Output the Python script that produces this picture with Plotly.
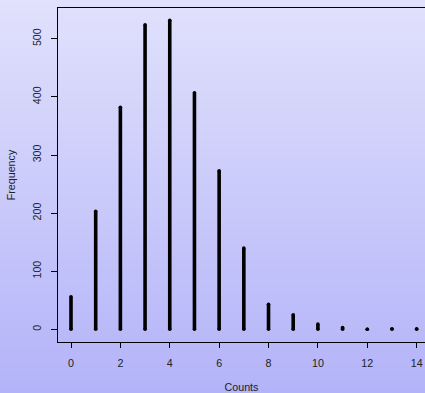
import plotly.graph_objects as go

counts = list(range(15))
frequency = [56, 203, 382, 524, 532, 407, 273, 140, 43, 25, 9, 3, 0, 1, 1]
x_ticks = [0, 2, 4, 6, 8, 10, 12, 14]
y_ticks = [0, 100, 200, 300, 400, 500]

W, H = 425, 393
ML, MT, MB, MR = 58, 8, 51, 0

# segment coordinates for type="h"-style lines
xs, ys = [], []
for c, f in zip(counts, frequency):
    xs += [c, c, None]
    ys += [0, f, None]

fig = go.Figure()
fig.add_trace(go.Scatter(x=xs, y=ys, mode="lines",
                         line=dict(color="black", width=3.6),
                         hoverinfo="skip", showlegend=False))
# round caps at both ends
fig.add_trace(go.Scatter(x=counts + counts, y=[0] * len(counts) + frequency,
                         mode="markers",
                         marker=dict(color="black", size=3.6, line=dict(width=0)),
                         hoverinfo="skip", showlegend=False))

# vertical gradient background (paper-referenced strips)
top = (225, 225, 252)
bot = (179, 179, 249)
ph = H - MT - MB
shapes = []
for py in range(H):
    t = py / (H - 1)
    col = tuple(round(top[i] + (bot[i] - top[i]) * t) for i in range(3))
    y0 = (H - MB - (py + 1)) / ph
    y1 = (H - MB - py) / ph
    shapes.append(dict(type="rect", xref="paper", yref="paper",
                       x0=-ML / (W - ML - MR) - 0.01, x1=1.02, y0=y0, y1=y1,
                       fillcolor="rgb(%d,%d,%d)" % col, line=dict(width=0),
                       layer="below"))

font = dict(family="Liberation Sans, Arial, sans-serif", size=10.7, color="#222")

fig.update_layout(
    width=W, height=H,
    margin=dict(l=ML, r=MR, t=MT, b=MB, pad=0),
    paper_bgcolor="rgb(200,200,250)",
    plot_bgcolor="rgba(0,0,0,0)",
    shapes=shapes,
    font=font,
    xaxis=dict(range=[-0.5265, 14.338], tickvals=x_ticks,
               showgrid=False, zeroline=False,
               showline=True, linecolor="black", linewidth=1, mirror=True,
               ticks="outside", ticklen=5, tickcolor="black", tickwidth=1,
               ticklabelstandoff=6,
               title=dict(text="Counts", standoff=16, font=font)),
    yaxis=dict(range=[-21.86, 553.0], tickvals=y_ticks,
               showgrid=False, zeroline=False,
               showline=True, linecolor="black", linewidth=1, mirror=False,
               ticks="outside", ticklen=6, tickcolor="black", tickwidth=1,
               tickangle=-90, ticklabelstandoff=6,
               title=dict(text="Frequency", standoff=12, font=font)),
)

fig.write_html("out.html")
